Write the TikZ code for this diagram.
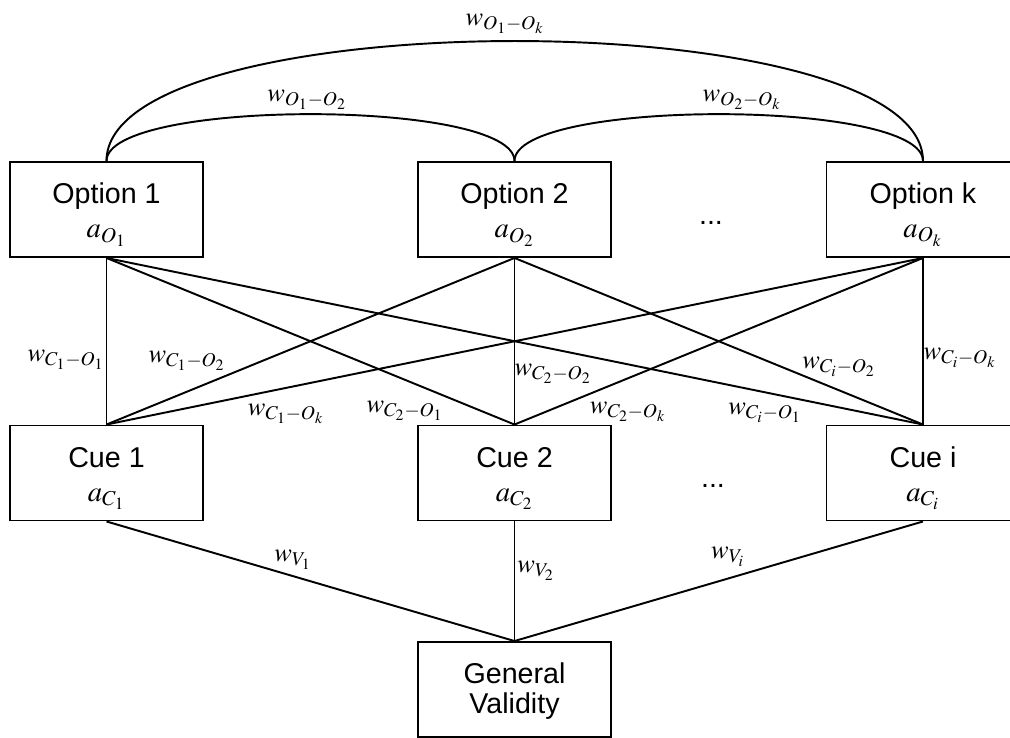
\documentclass[tikz,border=0pt]{standalone}
\usepackage{mathptmx}
\usepackage{fontspec}
\setmainfont{Liberation Sans}
\newcommand{\boxstrut}[1][17.8pt]{\rule{0pt}{#1}}
\begin{document}
\begin{tikzpicture}[
	box/.style={rectangle, draw, line width=1.1pt, minimum width=3.86cm, minimum height=1.9cm,
		text centered, align=center, font=\fontsize{16.3}{19.3}\selectfont},
	weight/.style={inner sep=0pt, font=\fontsize{15}{18}\selectfont},
	link/.style={line width=1.1pt}]
		\useasboundingbox (0,0) rectangle (20.2,14.74);
		
		%Option nodes
		\node (Option 1) at (2.13,10.55) [box]{\boxstrut Option 1\\$a_{O_1}$};
		\node (Option 2) at (10.29,10.55) [box]{\boxstrut Option 2\\$a_{O_2}$};
		\node (Option k) at (18.46,10.55) [box]{\boxstrut Option k\\$a_{O_k}$};
		\node (Option dots) at (14.22,10.28) [inner sep=0pt, font=\fontsize{16.3}{19.3}\selectfont]{...};
		
		%Cue nodes
		\node (Cue 1) at (2.13,5.28) [box]{\boxstrut Cue 1\\$a_{C_1}$};
		\node (Cue 2) at (10.29,5.28) [box]{\boxstrut Cue 2\\$a_{C_2}$};
		\node (Cue i) at (18.46,5.28) [box]{\boxstrut Cue i\\$a_{C_i}$};
		\node (Cue dots) at (14.26,5.02) [inner sep=0pt, font=\fontsize{16.3}{19.3}\selectfont]{...};
		
		%Validity node
		\node (Validity) at (10.29,0.95) [box, font=\fontsize{16.3}{17}\selectfont]{\boxstrut[14pt]General\\Validity};
		
		%Option-option links
		\draw[link] (Option 1.north) .. controls +(0,3.2) and +(0,3.2) .. (Option k.north);
		\draw[link] (Option 1.north) .. controls +(0,1.25) and +(0,1.25) .. (Option 2.north);
		\draw[link] (Option 2.north) .. controls +(0,1.25) and +(0,1.25) .. (Option k.north);
		\node (w O1 Ok) at (10.10,14.26) [weight]{$w_{O_1-O_k}$};
		\node (w O1 O2) at (6.14,12.74) [weight]{$w_{O_1-O_2}$};
		\node (w O2 Ok) at (14.84,12.74) [weight]{$w_{O_2-O_k}$};
		
		%Cue-option links
		\draw[link] (Option 1.south) -- (Cue 1.north);
		\draw[link] (Option 1.south) -- (Cue 2.north);
		\draw[link] (Option 1.south) -- (Cue i.north);
		\draw[link] (Option 2.south) -- (Cue 1.north);
		\draw[link] (Option 2.south) -- (Cue 2.north);
		\draw[link] (Option 2.south) -- (Cue i.north);
		\draw[link] (Option k.south) -- (Cue 1.north);
		\draw[link] (Option k.south) -- (Cue 2.north);
		\draw[link] (Option k.south) -- (Cue i.north);
		\node (w C1 O1) at (1.32,7.54) [weight]{$w_{C_1-O_1}$};
		\node (w C1 O2) at (3.74,7.52) [weight]{$w_{C_1-O_2}$};
		\node (w C1 Ok) at (5.72,6.46) [weight]{$w_{C_1-O_k}$};
		\node (w C2 O1) at (8.10,6.52) [weight]{$w_{C_2-O_1}$};
		\node (w C2 O2) at (11.06,7.26) [weight]{$w_{C_2-O_2}$};
		\node (w C2 Ok) at (12.56,6.50) [weight]{$w_{C_2-O_k}$};
		\node (w Ci O1) at (15.30,6.48) [weight]{$w_{C_i-O_1}$};
		\node (w Ci O2) at (16.78,7.40) [weight]{$w_{C_i-O_2}$};
		\node (w Ci Ok) at (19.20,7.58) [weight]{$w_{C_i-O_k}$};
		
		%Validity links
		\draw[link] (Cue 1.south) -- (Validity.north);
		\draw[link] (Cue 2.south) -- (Validity.north);
		\draw[link] (Cue i.south) -- (Validity.north);
		\node (w V1) at (5.86,3.54) [weight]{$w_{V_1}$};
		\node (w V2) at (10.72,3.32) [weight]{$w_{V_2}$};
		\node (w Vi) at (14.56,3.60) [weight]{$w_{V_i}$};
		
		\end{tikzpicture}
\end{document}
